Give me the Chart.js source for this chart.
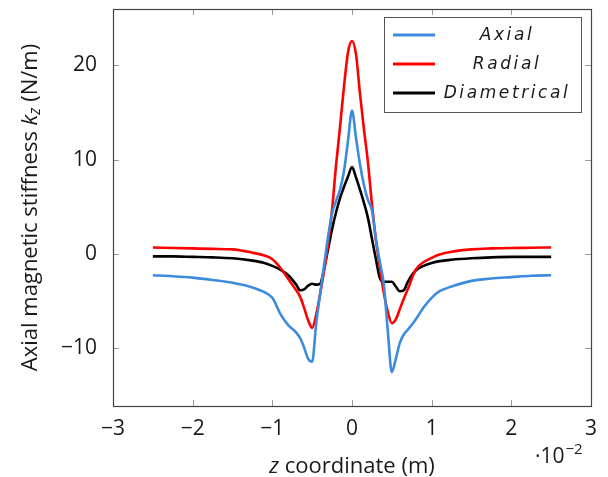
<!DOCTYPE html>
<html>
<head>
<meta charset="utf-8">
<script src="https://cdn.jsdelivr.net/npm/chart.js@4"></script>
<style>
  body { margin: 0; background: #fff; }
  canvas { display: block; }
</style>
</head>
<body>
<canvas id="stiffnessChart" width="608" height="477"></canvas>
<script>
// z coordinate, in units of 1e-2 m
const zCoord = [-2.5, -2.25, -2, -1.75, -1.5, -1.25, -1.1, -1.0, -0.9, -0.8, -0.7, -0.65, -0.6, -0.55, -0.5,
    -0.45, -0.4, -0.35, -0.3, -0.25, -0.2, -0.15, -0.1, -0.05, 0,
    0.05, 0.1, 0.15, 0.2, 0.25, 0.3, 0.35, 0.4, 0.45, 0.5, 0.55, 0.6, 0.65, 0.7, 0.8, 0.9, 1.0, 1.1, 1.25,
    1.5, 1.75, 2, 2.25, 2.5];

const axial = [-2.3, -2.4, -2.55, -2.8, -3.1, -3.6, -4.1, -4.7, -6.4, -7.6, -8.4, -9.0, -10.0, -11.2, -11.5,
    -7.5, -4.3, -1.2, 1.8, 4.3, 5.6, 6.8, 8.8, 12.0, 15.2,
    12.3, 9.5, 7.3, 5.7, 4.6, 1.5, -0.9, -3.3, -8.3, -12.6, -11.2, -9.5, -8.6, -8.1, -7.0, -5.7, -4.7, -4.0, -3.5,
    -2.9, -2.65, -2.5, -2.35, -2.3];

const radial = [0.65, 0.6, 0.55, 0.5, 0.45, 0.1, -0.2, -0.6, -1.5, -2.7, -3.9, -4.6, -5.8, -7.1, -7.9,
    -6.5, -4.3, -1.8, 1.0, 4.7, 9.4, 13.5, 17.8, 21.4, 22.6,
    21.2, 17.0, 13.2, 9.7, 5.3, 1.5, -1.5, -4.2, -6.2, -7.4, -7.0, -5.9, -4.8, -3.8, -1.7, -0.9, -0.45, -0.1, 0.2,
    0.45, 0.55, 0.6, 0.62, 0.65];

const diametrical = [-0.3, -0.3, -0.35, -0.4, -0.5, -0.75, -1.0, -1.3, -1.7, -2.3, -3.3, -3.9, -3.8, -3.4, -3.2,
    -3.3, -3.2, -1.6, 0.5, 2.6, 4.4, 5.9, 7.1, 8.2, 9.2,
    8.1, 6.8, 5.4, 3.8, 1.6, -0.6, -2.6, -3.0, -3.0, -3.0, -3.5, -4.0, -3.9, -3.0, -1.8, -1.3, -1.0, -0.8, -0.65,
    -0.5, -0.4, -0.35, -0.35, -0.35];

const seriesNames = ['Axial', 'Radial', 'Diametrical'];
const seriesColors = ['#3d8bdc', '#ff0000', '#000000'];

const xTicks = [-3, -2, -1, 0, 1, 2, 3];
const yTicks = [-10, 0, 10, 20];

const FONT = '"Open Sans", "DejaVu Sans", sans-serif';
const TEXT_COLOR = '#1a1a1a';

function minusSign(v) {
    return v < 0 ? '\u2212' + Math.abs(v) : String(v);
}

function toPoints(values) {
    return zCoord.map((z, i) => ({ x: z, y: values[i] }));
}

// frame, inward ticks, legend box and axis titles (pgfplots look)
const decorPlugin = {
    id: 'decor',
    afterDatasetsDraw(chart) {
        const ctx = chart.ctx;
        const a = chart.chartArea;
        const xs = chart.scales.x;
        const ys = chart.scales.y;
        ctx.save();

        // inward tick marks
        ctx.strokeStyle = '#9a9a9a';
        ctx.lineWidth = 1;
        ctx.beginPath();
        xTicks.forEach(v => {
            const px = Math.round(xs.getPixelForValue(v)) + 0.5;
            ctx.moveTo(px, a.bottom); ctx.lineTo(px, a.bottom - 6);
            ctx.moveTo(px, a.top); ctx.lineTo(px, a.top + 6);
        });
        yTicks.forEach(v => {
            const py = Math.round(ys.getPixelForValue(v)) + 0.5;
            ctx.moveTo(a.left, py); ctx.lineTo(a.left + 6, py);
            ctx.moveTo(a.right, py); ctx.lineTo(a.right - 6, py);
        });
        ctx.stroke();

        // frame
        ctx.strokeStyle = '#444';
        ctx.lineWidth = 1.2;
        ctx.strokeRect(Math.round(a.left) + 0.5, Math.round(a.top) + 0.5,
            Math.round(a.right - a.left), Math.round(a.bottom - a.top));

        // legend
        const lx = 384, ly = 17, lw = 197, lh = 95;
        ctx.fillStyle = '#fff';
        ctx.fillRect(lx, ly, lw, lh);
        ctx.strokeStyle = '#555';
        ctx.lineWidth = 1;
        ctx.strokeRect(lx + 0.5, ly + 0.5, lw, lh);
        ctx.font = 'italic 17px "DejaVu Sans", sans-serif';
        ctx.letterSpacing = '2.6px';
        ctx.textAlign = 'center';
        ctx.textBaseline = 'middle';
        chart.data.datasets.forEach((ds, i) => {
            const rowY = 35 + i * 29;
            ctx.strokeStyle = ds.borderColor;
            ctx.lineWidth = 3;
            ctx.beginPath();
            ctx.moveTo(393, rowY); ctx.lineTo(435, rowY);
            ctx.stroke();
            ctx.fillStyle = TEXT_COLOR;
            ctx.fillText(ds.label, 507, rowY + 1);
        });
        ctx.letterSpacing = '0px';

        // x title: italic z + " coordinate (m)"
        ctx.textBaseline = 'alphabetic';
        ctx.textAlign = 'left';
        ctx.fillStyle = TEXT_COLOR;
        const xt1 = 'z', xt2 = ' coordinate (m)';
        ctx.font = 'italic 22px ' + FONT;
        const w1 = ctx.measureText(xt1).width;
        ctx.font = '22px ' + FONT;
        const w2 = ctx.measureText(xt2).width;
        let sx = (a.left + a.right) / 2 - (w1 + w2) / 2;
        ctx.font = 'italic 22px ' + FONT;
        ctx.fillText(xt1, sx, 473);
        ctx.font = '22px ' + FONT;
        ctx.fillText(xt2, sx + w1, 473);

        // exponent label
        ctx.font = '21px ' + FONT;
        ctx.fillText('\u00b710', 535, 463);
        const we = ctx.measureText('\u00b710').width;
        ctx.font = '15px ' + FONT;
        ctx.fillText('\u22122', 535 + we + 1, 454);

        // y title, rotated
        ctx.translate(31, (a.top + a.bottom) / 2);
        ctx.rotate(-Math.PI / 2);
        const parts = [
            { t: 'Axial magnetic stiffness ', f: '22px ' + FONT, dy: 0 },
            { t: 'k', f: 'italic 22px ' + FONT, dy: 0 },
            { t: 'z', f: 'italic 16px ' + FONT, dy: 4 },
            { t: ' (N/m)', f: '22px ' + FONT, dy: 0 }
        ];
        let total = 0;
        parts.forEach(p => { ctx.font = p.f; p.w = ctx.measureText(p.t).width; total += p.w; });
        let cx = -total / 2;
        ctx.textBaseline = 'middle';
        parts.forEach(p => {
            ctx.font = p.f;
            ctx.fillText(p.t, cx, p.dy);
            cx += p.w;
        });
        ctx.restore();
    }
};

const ctx = document.getElementById('stiffnessChart').getContext('2d');
new Chart(ctx, {
    type: 'line',
    data: {
        datasets: seriesNames.map((name, i) => ({
            label: name,
            data: toPoints([axial, radial, diametrical][i]),
            borderColor: seriesColors[i],
            borderWidth: 2.6,
            pointRadius: 0,
            fill: false,
            cubicInterpolationMode: 'monotone'
        }))
    },
    options: {
        responsive: false,
        animation: false,
        layout: { padding: { top: 9, right: 17, left: 0, bottom: 0 } },
        plugins: {
            legend: { display: false },
            tooltip: { enabled: false }
        },
        scales: {
            x: {
                type: 'linear',
                min: -3,
                max: 3,
                afterBuildTicks: s => { s.ticks = xTicks.map(v => ({ value: v })); },
                afterFit: s => { s.height = 71; s.paddingLeft = 0; s.paddingRight = 0; },
                grid: { display: false },
                border: { display: false },
                ticks: {
                    padding: 2,
                    color: TEXT_COLOR,
                    font: { family: FONT, size: 21 },
                    callback: v => minusSign(v)
                }
            },
            y: {
                min: -16.2,
                max: 26,
                afterBuildTicks: s => { s.ticks = yTicks.map(v => ({ value: v })); },
                afterFit: s => { s.width = 113; s.paddingTop = 0; s.paddingBottom = 0; },
                grid: { display: false },
                border: { display: false },
                ticks: {
                    padding: 8,
                    color: TEXT_COLOR,
                    font: { family: FONT, size: 21 },
                    callback: v => minusSign(v)
                }
            }
        }
    },
    plugins: [decorPlugin]
});
</script>
</body>
</html>
